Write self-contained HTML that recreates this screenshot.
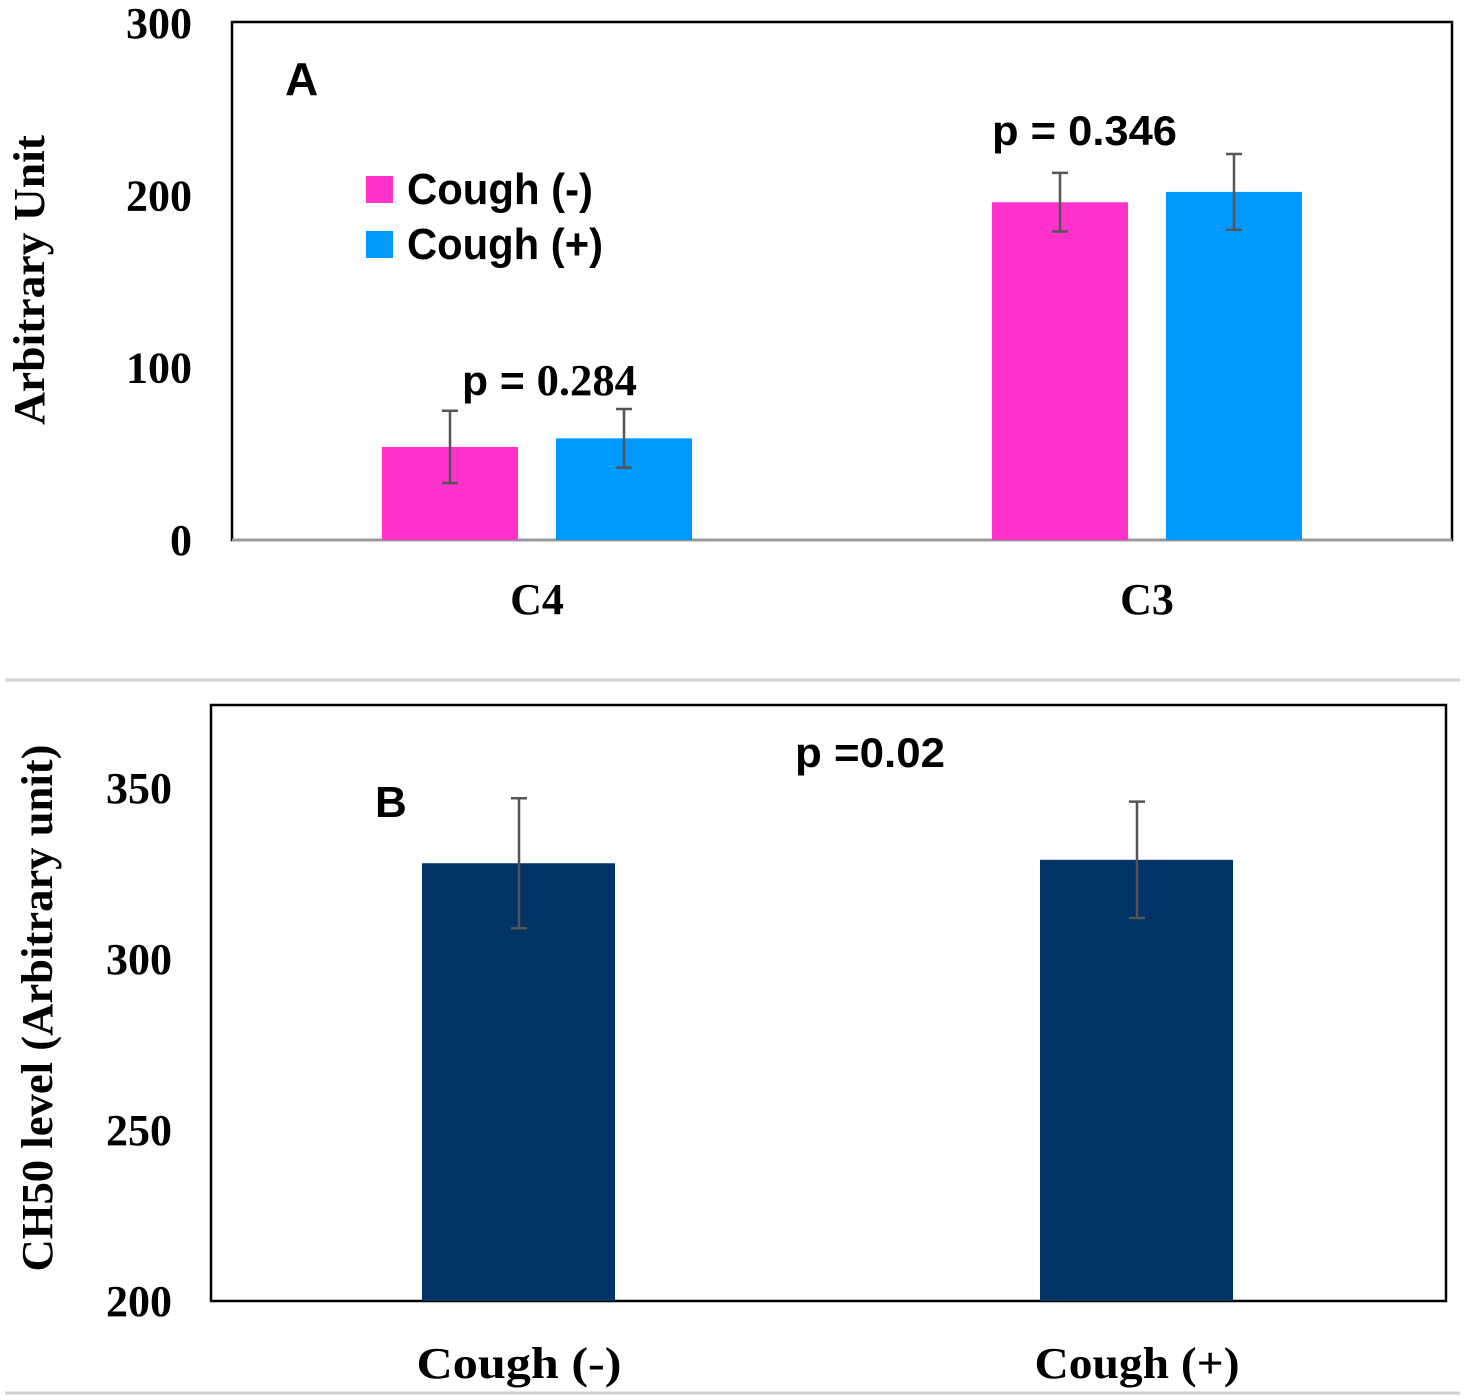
<!DOCTYPE html>
<html><head><meta charset="utf-8"><style>
html,body{margin:0;padding:0;background:#fff;}
svg{display:block;}
.tk{font-family:"Liberation Serif",serif;font-weight:bold;font-size:44px;fill:#000;}
.sn{font-family:"Liberation Sans",sans-serif;font-weight:bold;fill:#000;}
</style></head><body>
<svg id="chart" width="1465" height="1400" viewBox="0 0 1465 1400" xmlns="http://www.w3.org/2000/svg">
<line x1="5" y1="680" x2="1460" y2="680" stroke="#d0d0d0" stroke-width="3"/>
<line x1="5" y1="1393" x2="1460" y2="1393" stroke="#d0d0d0" stroke-width="3"/>
<g id="panelA">
<rect x="232" y="22" width="1220" height="518" fill="none" stroke="#000" stroke-width="2.5"/>
<line x1="232" y1="540" x2="1452" y2="540" stroke="#999" stroke-width="3"/>
<text x="285" y="95" class="sn" font-size="46">A</text>
<rect x="366" y="176" width="27" height="27" fill="#ff33cc"/>
<text x="407" y="204" class="sn" font-size="44" textLength="186" lengthAdjust="spacingAndGlyphs">Cough (-)</text>
<rect x="366" y="231" width="27" height="27" fill="#0099ff"/>
<text x="407" y="259" class="sn" font-size="44" textLength="196" lengthAdjust="spacingAndGlyphs">Cough (+)</text>
<text x="462" y="395" font-size="42" textLength="175" lengthAdjust="spacingAndGlyphs"><tspan class="sn">p = </tspan><tspan class="tk" font-size="42">0.284</tspan></text>
<text x="992" y="145" class="sn" font-size="42" textLength="185" lengthAdjust="spacingAndGlyphs">p = 0.346</text>
<text transform="translate(44,280) rotate(-90)" text-anchor="middle" class="tk" font-size="42" textLength="290" lengthAdjust="spacingAndGlyphs">Arbitrary Unit</text>
</g>
<g id="panelB">
<rect x="211" y="705" width="1235" height="596" fill="none" stroke="#000" stroke-width="2.5"/>
<text x="375" y="817" class="sn" font-size="44">B</text>
<text x="795" y="767" class="sn" font-size="42" textLength="150" lengthAdjust="spacingAndGlyphs">p =0.02</text>
<text transform="translate(52,1008) rotate(-90)" text-anchor="middle" class="tk" font-size="42" textLength="527" lengthAdjust="spacingAndGlyphs">CH50  level (Arbitrary unit)</text>
</g>
</svg>
<script>
// Panel A data
const aCategories = ["C4", "C3"];
const aSeriesNames = ["Cough (-)", "Cough (+)"];
const aCoughNeg = [54, 196];
const aCoughNegErr = [21, 17];
const aCoughPos = [59, 202];
const aCoughPosErr = [17, 22];
const aTicks = [0, 100, 200, 300];
// Panel B data
const bCategories = ["Cough (-)", "Cough (+)"];
const bValues = [328, 329];
const bErr = [19, 17];
const bTicks = [200, 250, 300, 350];

const NS = "http://www.w3.org/2000/svg";
function mk(tag, attrs, parent, txt) {
  const e = document.createElementNS(NS, tag);
  for (const k in attrs) e.setAttribute(k, attrs[k]);
  if (txt !== undefined) e.textContent = txt;
  parent.appendChild(e);
  return e;
}
const yA = v => 540 - (v / 300) * 517;
const yB = v => 1301 - (v - 200) / 50 * 171;
const gA = document.getElementById('panelA');
const gB = document.getElementById('panelB');

aTicks.forEach(t => {
  const e = mk('text', {x: 192, y: yA(t) + 15, 'text-anchor': 'end', class: 'tk'}, gA, String(t));
  
  
});
const aCenters = [537, 1147];
const colors = ["#ff33cc", "#0099ff"];
const series = [[aCoughNeg, aCoughNegErr], [aCoughPos, aCoughPosErr]];
aCategories.forEach((c, i) => {
  series.forEach((s, j) => {
    const v = s[0][i], er = s[1][i];
    const x0 = aCenters[i] - 155 + j * 174;
    const r = mk('rect', {x: x0, y: yA(v), width: 136, height: 540 - yA(v), fill: colors[j]}, gA);
    
    
    const cx = x0 + 68;
    const eb = mk('path', {d: `M${cx},${yA(v+er)}V${yA(v-er)}M${cx-8},${yA(v+er)}H${cx+8}M${cx-8},${yA(v-er)}H${cx+8}`, stroke: '#555', 'stroke-width': 2.5, fill: 'none'}, gA);
    
    
  });
  const l = mk('text', {x: aCenters[i], y: 614, 'text-anchor': 'middle', class: 'tk', 'font-size': 52}, gA, c);
  
  
});

bTicks.forEach(t => {
  const e = mk('text', {x: 172, y: yB(t) + 15, 'text-anchor': 'end', class: 'tk'}, gB, String(t));
  
  
});
const bCenters = [519, 1137];
bCategories.forEach((c, i) => {
  const v = bValues[i], er = bErr[i];
  const r = mk('rect', {x: bCenters[i] - 97, y: yB(v), width: 193, height: 1301 - yB(v), fill: '#003366'}, gB);
  
  
  const cx = bCenters[i];
  const eb = mk('path', {d: `M${cx},${yB(v+er)}V${yB(v-er)}M${cx-8},${yB(v+er)}H${cx+8}M${cx-8},${yB(v-er)}H${cx+8}`, stroke: '#555', 'stroke-width': 2.5, fill: 'none'}, gB);
  
  
  const l = mk('text', {x: cx, y: 1378, 'text-anchor': 'middle', class: 'tk', 'font-size': 50, textLength: 205, lengthAdjust: 'spacingAndGlyphs'}, gB, c);
  
  
});
</script>
</body></html>
